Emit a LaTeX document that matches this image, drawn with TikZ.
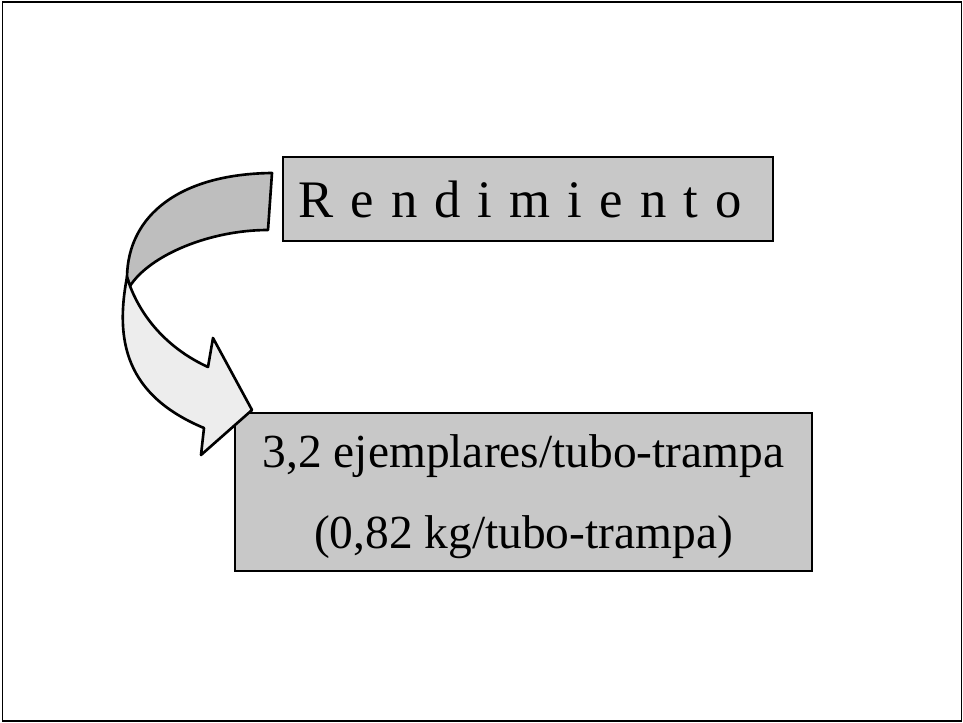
\documentclass[tikz,border=0pt]{standalone}
\usepackage{fontspec}
\setmainfont{Liberation Serif}
\newfontfamily\spacedfont[WordSpace=1.3]{Liberation Serif}
\definecolor{boxgray}{HTML}{C8C8C8}
\definecolor{ribbondark}{HTML}{BEBEBE}
\definecolor{ribbonlight}{HTML}{EDEDED}

\begin{document}
\begin{tikzpicture}[x=0.02cm,y=-0.02cm,
  textbox/.style={draw,line width=1.1pt,fill=boxgray,inner sep=0pt},
  ribbon/.style={draw,line width=1.5pt,line join=round}]

\useasboundingbox (0,0) rectangle (963,723);
\draw[line width=1.1pt] (2.5,2) rectangle (961.5,721);

% boxes
\node[textbox,minimum width=490*0.02cm,minimum height=84*0.02cm] (titlebox) at (528,199) {};
\node[inner sep=0pt,font=\spacedfont\fontsize{30}{34}\selectfont] (title) at (520,199) {R e n d i m i e n t o};
\node[textbox,minimum width=577*0.02cm,minimum height=158*0.02cm] (yieldbox) at (523.5,492) {};
\node[inner sep=0pt,align=center,font=\fontsize{27}{46}\selectfont] (yield) at (523.5,497)
  {3,2 ejemplares/tubo-trampa\\(0,82 kg/tubo-trampa)};

% twisted arrow
\coordinate (top) at (272,173);
\coordinate (twist) at (127,277);
\coordinate (twistin) at (130,286);
\draw[ribbon,fill=ribbondark] (top) -- (268,230)
  .. controls (210,230) and (150,255) .. (twistin) -- (twist)
  .. controls (128,215) and (180,174) .. (top) -- cycle;
\draw[ribbon,fill=ribbonlight] (twist)
  .. controls (115,340) and (125,395) .. (204,428)
  -- (201,455) -- (252,410) -- (213,338) -- (208,367)
  .. controls (175,352) and (145,325) .. (twistin) -- cycle;

\end{tikzpicture}
\end{document}
